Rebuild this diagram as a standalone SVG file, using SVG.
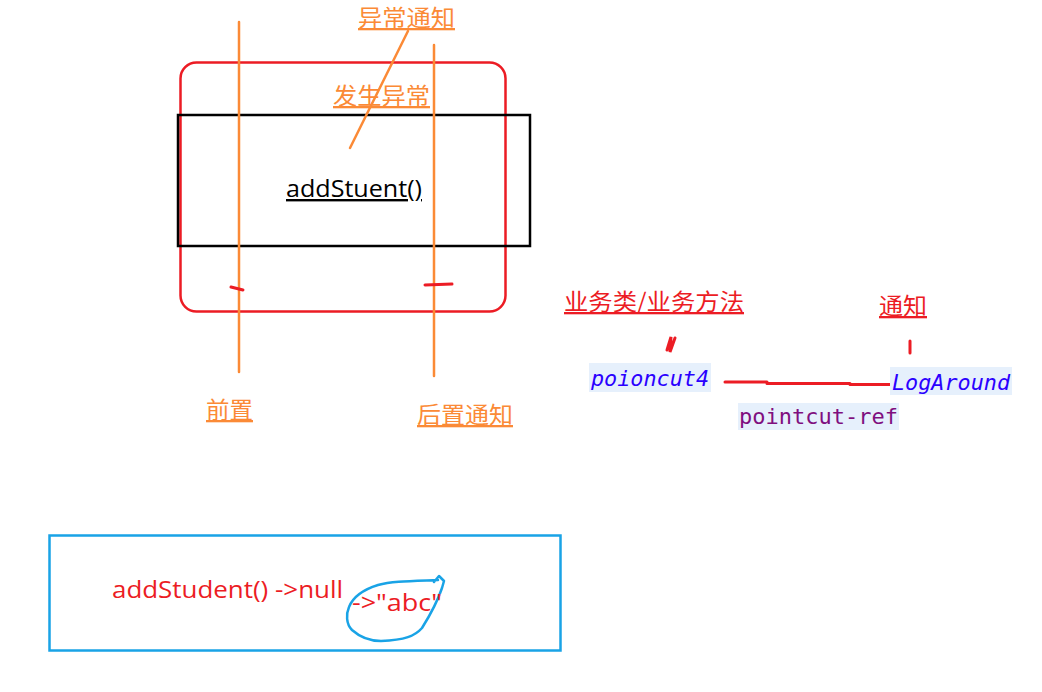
<svg xmlns="http://www.w3.org/2000/svg" width="1042" height="692" viewBox="0 0 1042 692">
<style>
.cjk{font-family:"Noto Sans CJK SC","Noto Sans",sans-serif;font-size:23px;text-decoration:underline}
.or{fill:#fb8a36}
.rd{fill:#ec1c24}
.ol{stroke:#fb8a36;stroke-width:2.5;fill:none;stroke-linecap:round}
.rl{stroke:#ec1c24;stroke-width:3;fill:none;stroke-linecap:round}
.mono{font-family:"DejaVu Sans Mono","Liberation Mono",monospace;font-size:21px}
.hl{fill:#e6f0fc}
.sans{font-family:"Open Sans","Noto Sans",sans-serif}
</style>
<rect width="1042" height="692" fill="#ffffff"/>
<g id="aspect-box">
<rect x="180.5" y="62.5" width="325" height="249" rx="16" fill="none" stroke="#ec1c24" stroke-width="2.5"/>
</g>
<g id="method-box">
<rect x="178" y="115" width="352" height="131" fill="none" stroke="#000" stroke-width="2.5"/>
<text class="sans" x="286" y="197" font-size="24" fill="#000" text-decoration="underline" textLength="136" lengthAdjust="spacingAndGlyphs">addStuent()</text>
</g>
<g id="connectors">
<line class="ol" x1="239" y1="22" x2="239" y2="372"/>
<line class="ol" x1="434" y1="45" x2="434" y2="376"/>
<line class="ol" x1="408" y1="31" x2="350" y2="148"/>
<path class="rl" d="M231 287 L243 290"/>
<path class="rl" d="M425 285 L452 284"/>
<path class="rl" d="M667 350 L671 337 L670 352 L675 338" stroke-width="4"/>
<path class="rl" d="M910 341 L910 353" stroke-width="5"/>
<path class="rl" d="M725 382 L767 382 M767 383.5 L850 383.5 M850 384.5 L890 384.5" stroke-width="2.5"/>
<path d="M434 582 L439 576 L444 581 L442 588 C438 600 432 612 422 628 C415 636 405 640 381 641 C370 641 361 638 352 630 C346 624 346 614 349 607 C353 597 362 590 378 585 C392 581 410 581 438 580" fill="none" stroke="#19a3e6" stroke-width="2.5" stroke-linecap="round" stroke-linejoin="round"/>
</g>
<g id="label-exception-notice">
<text class="cjk or" x="358" y="26" textLength="97" lengthAdjust="spacingAndGlyphs">异常通知</text>
</g>
<g id="label-exception-occurs">
<text class="cjk or" x="333" y="104" textLength="97" lengthAdjust="spacingAndGlyphs">发生异常</text>
</g>
<g id="label-before">
<text class="cjk or" x="206" y="418" textLength="47" lengthAdjust="spacingAndGlyphs">前置</text>
</g>
<g id="label-after">
<text class="cjk or" x="417" y="423" textLength="96" lengthAdjust="spacingAndGlyphs">后置通知</text>
</g>
<g id="label-business">
<text class="cjk rd" x="564" y="310" textLength="180" lengthAdjust="spacingAndGlyphs">业务类/业务方法</text>
</g>
<g id="label-advice">
<text class="cjk rd" x="879" y="314" textLength="48" lengthAdjust="spacingAndGlyphs">通知</text>
</g>
<g id="node-pointcut">
<rect class="hl" x="589" y="363" width="122" height="29"/>
<text class="mono" x="591" y="386" fill="#2a00ff" font-style="italic" textLength="118" lengthAdjust="spacingAndGlyphs">poioncut4</text>
</g>
<g id="node-logaround">
<rect class="hl" x="890" y="367" width="122" height="28"/>
<text class="mono" x="892" y="390" fill="#2a00ff" font-style="italic" textLength="118" lengthAdjust="spacingAndGlyphs">LogAround</text>
</g>
<g id="label-pointcut-ref">
<rect class="hl" x="738" y="403" width="161" height="27"/>
<text class="mono" x="739" y="424" fill="#7f0f7f" textLength="159" lengthAdjust="spacingAndGlyphs">pointcut-ref</text>
</g>
<g id="return-box">
<rect x="49.5" y="535.5" width="511" height="115" fill="none" stroke="#19a3e6" stroke-width="2.5"/>
<text class="sans" x="112" y="598" font-size="24" fill="#ec1c24" textLength="231" lengthAdjust="spacingAndGlyphs">addStudent() -&gt;null</text>
<text class="sans" x="352" y="611" font-size="24" fill="#ec1c24" textLength="90" lengthAdjust="spacingAndGlyphs">-&gt;"abc"</text>
</g>
</svg>
